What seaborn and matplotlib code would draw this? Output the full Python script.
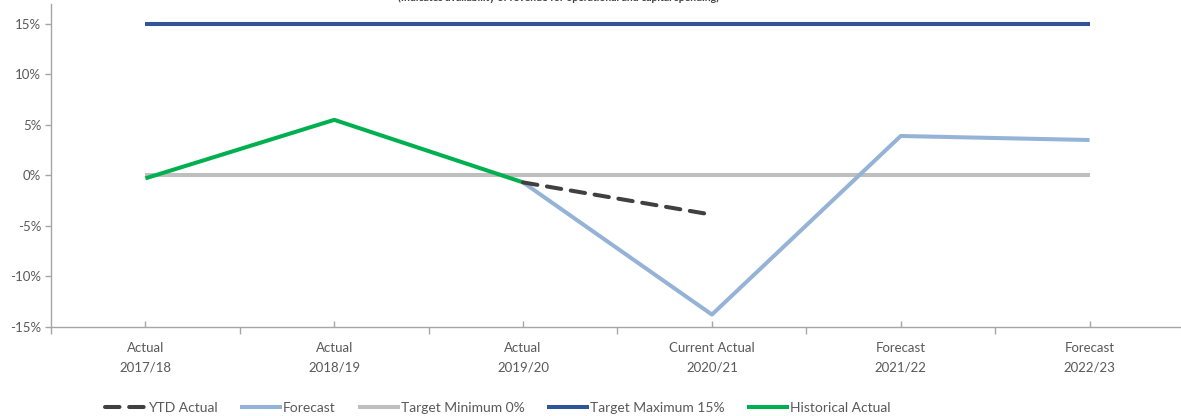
import numpy as np
import pandas as pd
import matplotlib
matplotlib.use("Agg")
import matplotlib.pyplot as plt
from matplotlib.ticker import FixedLocator, FuncFormatter
from matplotlib.lines import Line2D
import seaborn as sns

# Reserve ratio by year (% of revenue)
categories = ["Actual\n2017/18", "Actual\n2018/19", "Actual\n2019/20",
              "Current Actual\n2020/21", "Forecast\n2021/22", "Forecast\n2022/23"]
ytd_actual = [np.nan, np.nan, -0.7, -3.9, np.nan, np.nan]
forecast = [np.nan, np.nan, -0.7, -13.8, 3.9, 3.5]
target_min = [0, 0, 0, 0, 0, 0]
target_max = [15, 15, 15, 15, 15, 15]
historical = [-0.3, 5.5, -0.7, np.nan, np.nan, np.nan]
y_ticks = [-15, -10, -5, 0, 5, 10, 15]

series_names = ["YTD Actual", "Forecast", "Target Minimum 0%",
                "Target Maximum 15%", "Historical Actual"]
series_values = [ytd_actual, forecast, target_min, target_max, historical]
colors = {"YTD Actual": "#404040", "Forecast": "#95B3D7",
          "Target Minimum 0%": "#BFBFBF", "Target Maximum 15%": "#2F5597",
          "Historical Actual": "#00B050"}

sns.set_theme(style="white")
plt.rcParams["font.family"] = ["Lato", "DejaVu Sans"]
text_color = "#595959"
axis_color = "#A6A6A6"

fig = plt.figure(figsize=(11.81, 4.16), dpi=100)
ax = fig.add_axes([51 / 1181, 89.3 / 416, 1133 / 1181, 322.9 / 416])

pos = np.arange(len(categories))
frames = {name: pd.DataFrame({"x": pos, "y": vals})
          for name, vals in zip(series_names, series_values)}

draw_order = ["Target Minimum 0%", "Target Maximum 15%", "Forecast",
              "Historical Actual", "YTD Actual"]
lw = 2.9
dash = (0, (3.6, 2.4))
for name in draw_order:
    df = frames[name].dropna()
    if name == "YTD Actual":
        sns.lineplot(data=df, x="x", y="y", ax=ax, color=colors[name],
                     linewidth=lw, linestyle=dash,
                     dash_capstyle="round", legend=False)
    else:
        sns.lineplot(data=df, x="x", y="y", ax=ax, color=colors[name],
                     linewidth=lw, solid_capstyle="butt", legend=False)

ax.set_xlim(-0.5, len(categories) - 0.5)
ax.set_ylim(-15, 17)
ax.set_xlabel("")
ax.set_ylabel("")

# Category labels with small inward ticks; outward ticks between categories
ax.xaxis.set_major_locator(FixedLocator(pos))
ax.set_xticklabels(categories)
ax.xaxis.set_minor_locator(FixedLocator(np.arange(-0.5, len(categories), 1.0)))
ax.tick_params(axis="x", which="major", direction="in", length=4, width=1,
               color=axis_color, bottom=True, labelsize=9.5,
               labelcolor=text_color, pad=11)
ax.tick_params(axis="x", which="minor", direction="out", length=5, width=1,
               color=axis_color, bottom=True)
for lab in ax.get_xticklabels():
    lab.set_linespacing(1.75)

ax.yaxis.set_major_locator(FixedLocator(y_ticks))
ax.yaxis.set_major_formatter(FuncFormatter(lambda v, p: f"{v:.0f}%"))
ax.tick_params(axis="y", direction="out", length=4, width=1,
               color=axis_color, left=True, labelsize=9.5,
               labelcolor=text_color, pad=3)

for side in ["top", "right"]:
    ax.spines[side].set_visible(False)
for side in ["left", "bottom"]:
    ax.spines[side].set_color(axis_color)
    ax.spines[side].set_linewidth(1)
ax.grid(False)

fig.text(558 / 1181, 1.0 + 2 / 416,
         "(Indicates availability of revenue for operational and capital spending)",
         ha="center", va="center", fontsize=7.5, fontweight="bold",
         color="#404040")

handles = []
for name in series_names:
    if name == "YTD Actual":
        h = Line2D([], [], color=colors[name], linewidth=lw,
                   linestyle=dash, dash_capstyle="round")
    else:
        h = Line2D([], [], color=colors[name], linewidth=lw,
                   solid_capstyle="butt")
    handles.append(h)
fig.legend(handles, series_names, loc="center",
           bbox_to_anchor=(498 / 1181, 1 - 408 / 416), ncol=5, frameon=False,
           fontsize=10, labelcolor=text_color, handlelength=3.0,
           handletextpad=0.1, columnspacing=1.6)

fig.savefig("out.png", dpi=100)
